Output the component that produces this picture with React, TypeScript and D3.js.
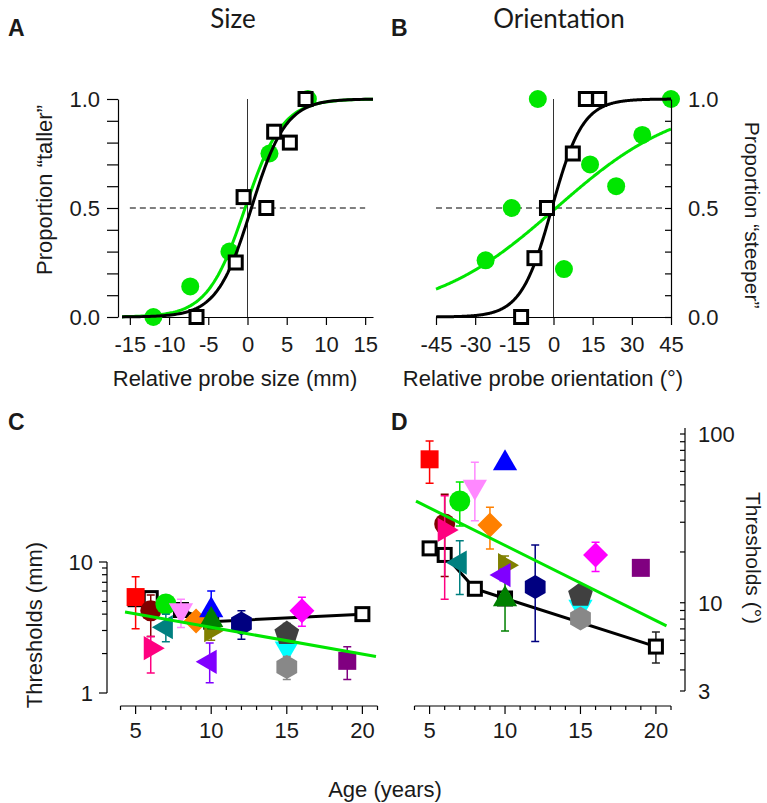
import React, { useEffect, useRef } from 'react';
import * as d3 from 'd3';

// ---- Panel A: size discrimination (relative probe size, proportion "taller")
const sizeGreenX = [-12, -7.3, -2.3, 2.8, 7.7];
const sizeGreenP = [0, 0.14, 0.3, 0.75, 1.0];
const sizeBlackX = [-6.5, -1.5, -0.5, 2.4, 3.4, 5.4, 7.4];
const sizeBlackP = [0, 0.25, 0.55, 0.5, 0.85, 0.8, 1.0];
// logistic fits: [midpoint, spread]
const sizeGreenFit = [-0.3, 2.4];
const sizeBlackFit = [0.5, 2.2];
const sizeTicks = [-15, -10, -5, 0, 5, 10, 15];

// ---- Panel B: orientation discrimination
const oriGreenX = [-26, -16, -6, 4, 14, 24, 34, 45];
const oriGreenP = [0.26, 0.5, 1.0, 0.22, 0.7, 0.6, 0.835, 1.0];
const oriBlackX = [-12.4, -7.3, -2.5, 7.4, 12.4, 17.5];
const oriBlackP = [0, 0.27, 0.5, 0.75, 1, 1];
const oriGreenFit = [1, 24];
const oriBlackFit = [-0.6, 5.9];
const oriTicks = [-45, -30, -15, 0, 15, 30, 45];

const propTicks = [0, 0.5, 1];

// ---- Panels C/D: thresholds by age, one entry per participant
const groupAges = [5, 6, 6, 7, 7, 8, 9, 10, 10, 10, 9.9, 12, 15, 15, 15, 16, 19];
const groupShapes = ['square', 'circle', 'triRight', 'circle', 'triLeft', 'triDown', 'diamond', 'triUp', 'triRight', 'triUp', 'triLeft', 'hexagon', 'triDown', 'pentagon', 'hexagon', 'diamond', 'square'];
const groupColors = ['#ff0000', '#800000', '#ff0080', '#00e600', '#008080', '#ff88ff', '#ff8000', '#0000ff', '#808000', '#008000', '#8000ff', '#000080', '#00ffff', '#404040', '#888888', '#ff00ff', '#800080'];

const sizeThr = [5.4, 4.24, 2.2, 4.78, 3.18, 4.29, 3.55, 4.29, 3.02, 3.6, 1.73, 3.4, 2.19, 2.85, 1.58, 4.24, 1.76];
const sizeLo = [3.1, 2.7, 1.42, 4.5, 2.46, 3.16, 3.2, 3.4, 2.53, 3.1, 1.2, 2.57, 2.0, 2.5, 1.27, 3.23, 1.27];
const sizeHi = [7.7, 5.6, 2.7, 5.1, 4.0, 5.2, 3.9, 6.0, 3.5, 4.1, 2.41, 4.24, 2.4, 3.4, 1.9, 5.37, 2.25];

const oriThr = [70.8, 29.3, 27, 40.1, 17.3, 48.7, 28.9, 67, 16.7, 10.5, 14.6, 12.4, 9.47, 11.1, 8.08, 19.2, 16.1];
const oriLo = [51, 14.3, 10.5, 28.5, 11.2, 30.6, 20.8, 66, 14.5, 6.8, 13.5, 5.9, 7.2, 10.5, 7.6, 15.3, 15.8];
const oriHi = [91, 44, 43, 52, 23.3, 68, 36.8, 68, 18.9, 13.8, 15.8, 22, 10.4, 11.7, 8.6, 22.8, 16.4];

// open black squares (joined by a line)
const blackAges = [5, 6, 8, 10, 20];
const blackSize = [5.2, 5.3, 4.3, 3.5, 4.0];
const blackSizeLo = [5.2, 5.0, 4.3, 3.5, 3.85];
const blackSizeHi = [5.2, 5.6, 4.3, 3.5, 4.15];
const blackOri = [21, 19.2, 12.1, 10.6, 5.5];
const blackOriLo = [21, 19.2, 12.1, 10.6, 4.4];
const blackOriHi = [21, 19.2, 12.1, 10.6, 6.7];

// green regression lines: end ages and values
const trendAges = [4.3, 20.9];
const sizeTrend = [4.15, 1.9];
const oriTrendAges = [4.1, 20.7];
const oriTrend = [40, 7.3];

const ageTicks = [5, 10, 15, 20];
const sizeThrTicks = [1, 10];
const oriThrTicks = [3, 10, 100];

const FONT = 'Liberation Sans, Arial, Helvetica, sans-serif';
const GREEN = '#00e600';
const INK = '#1a1a1a';

const polygon = (n: number, r: number, rot: number) => {
  const pts = d3.range(n).map((i) => {
    const a = rot + (i * 2 * Math.PI) / n;
    return [r * Math.sin(a), -r * Math.cos(a)];
  });
  return 'M' + pts.map((p) => p.join(',')).join('L') + 'Z';
};

const shapePath: Record<string, string> = {
  square: 'M-9,-9H9V9H-9Z',
  circle: d3.symbol(d3.symbolCircle, Math.PI * 10.5 * 10.5)() as string,
  triUp: polygon(3, 14, 0),
  triDown: polygon(3, 14, Math.PI),
  triRight: polygon(3, 14, Math.PI / 2),
  triLeft: polygon(3, 14, -Math.PI / 2),
  diamond: polygon(4, 12.5, 0),
  hexagon: polygon(6, 12, 0),
  pentagon: polygon(5, 13, 0),
};

const logistic = (fit: number[]) => (x: number) => 1 / (1 + Math.exp(-(x - fit[0]) / fit[1]));

const App = () => {
  const ref = useRef<SVGSVGElement>(null);

  useEffect(() => {
    const svg = d3.select(ref.current);
    svg.selectAll('*').remove();
    svg.attr('font-family', FONT);

    const text = (x: number, y: number, s: string, size = 22, anchor = 'middle', rot = 0, weight = 'normal', family = FONT) =>
      svg
        .append('text')
        .attr('transform', `translate(${x},${y}) rotate(${rot})`)
        .attr('text-anchor', anchor)
        .attr('font-size', size)
        .attr('font-weight', weight)
        .attr('font-family', family)
        .attr('fill', INK)
        .text(s);

    // ---------- Panels A and B ----------
    const yP = d3.scaleLinear().domain([0, 1]).range([317, 99]);
    const xA = d3.scaleLinear().domain([-16, 16]).range([122, 373]);
    const xB = d3.scaleLinear().domain([-45, 45]).range([436, 671]);

    const psych = (
      x: d3.ScaleLinear<number, number>,
      ticks: number[],
      gX: number[], gP: number[], bX: number[], bP: number[],
      gFit: number[], bFit: number[],
      dashEnd: number,
    ) => {
      const g = svg.append('g');
      const [d0, d1] = x.domain();

      // x axis
      g.append('g')
        .attr('transform', `translate(0,${yP(0)})`)
        .call(d3.axisBottom(x).tickValues(ticks).tickSize(8).tickSizeOuter(0).tickPadding(11).tickFormat((d) => String(d)))
        .call((a) => a.selectAll('text').attr('font-size', 22).attr('font-family', FONT).attr('fill', INK))
        .call((a) => a.selectAll('line,path').attr('stroke', '#000').attr('stroke-width', 1.2));

      // reference lines
      g.append('line')
        .attr('x1', x(0)).attr('x2', x(0))
        .attr('y1', yP(0)).attr('y2', yP(1))
        .attr('stroke', '#333').attr('stroke-width', 1);
      g.append('line')
        .attr('x1', x(ticks[0])).attr('x2', x(dashEnd))
        .attr('y1', yP(0.5)).attr('y2', yP(0.5))
        .attr('stroke', '#000').attr('stroke-width', 1.2).attr('stroke-dasharray', '6,4');

      // data + fits
      g.selectAll('circle.pt')
        .data(gX)
        .join('circle')
        .attr('cx', (d) => x(d))
        .attr('cy', (_, i) => yP(gP[i]))
        .attr('r', 9)
        .attr('fill', GREEN);

      const curve = (fit: number[]) =>
        d3.line<number>().x((d) => x(d)).y((d) => yP(logistic(fit)(d)))(d3.range(d0, d1 + 0.001, 0.25));

      g.append('path').attr('d', curve(gFit)).attr('fill', 'none').attr('stroke', GREEN).attr('stroke-width', 3);
      g.append('path').attr('d', curve(bFit)).attr('fill', 'none').attr('stroke', '#000').attr('stroke-width', 3);

      g.selectAll('rect.pt')
        .data(bX)
        .join('rect')
        .attr('x', (d) => x(d) - 6.5)
        .attr('y', (_, i) => yP(bP[i]) - 6.5)
        .attr('width', 13)
        .attr('height', 13)
        .attr('fill', '#fff')
        .attr('stroke', '#000')
        .attr('stroke-width', 3);
    };

    psych(xA, sizeTicks, sizeGreenX, sizeGreenP, sizeBlackX, sizeBlackP, sizeGreenFit, sizeBlackFit, 15);
    psych(xB, oriTicks, oriGreenX, oriGreenP, oriBlackX, oriBlackP, oriGreenFit, oriBlackFit, 43);

    // y axis A (left)
    svg.append('g')
      .attr('transform', `translate(118,0)`)
      .call(
        d3.axisLeft(yP).tickValues(d3.range(0, 1.001, 0.1)).tickSize(11).tickSizeOuter(0).tickPadding(7)
          .tickFormat((d) => (propTicks.some((t) => Math.abs(t - +d) < 1e-6) ? d3.format('.1f')(+d) : '')),
      )
      .call((a) => a.selectAll('text').attr('font-size', 22).attr('font-family', FONT).attr('fill', INK))
      .call((a) => a.selectAll('line,path').attr('stroke', '#000').attr('stroke-width', 1.2));

    // y axis B (right, ticks inward)
    svg.append('g')
      .attr('transform', `translate(${xB(45)},0)`)
      .call(
        d3.axisRight(yP).tickValues(d3.range(0, 1.001, 0.1)).tickSize(-6).tickSizeOuter(0).tickPadding(17)
          .tickFormat((d) => (propTicks.some((t) => Math.abs(t - +d) < 1e-6) ? d3.format('.1f')(+d) : '')),
      )
      .call((a) => a.selectAll('text').attr('font-size', 22).attr('font-family', FONT).attr('fill', INK))
      .call((a) => a.selectAll('line,path').attr('stroke', '#000').attr('stroke-width', 1.2));

    // ---------- Panels C and D ----------
    const axisY0 = 706;
    const xC = d3.scaleLinear().domain([4, 21]).range([120.5, 377.5]);
    const xD = d3.scaleLinear().domain([4, 21]).range([414.5, 671]);
    const yC = d3.scaleLog().domain([1, 10]).range([693, 562]);
    const yD = d3.scaleLog().domain([3, 100]).range([691, 434]);

    const ageAxis = (x: d3.ScaleLinear<number, number>) => {
      const g = svg.append('g').attr('stroke', '#000').attr('stroke-width', 1.2);
      g.append('line').attr('x1', x(4)).attr('x2', x(21)).attr('y1', axisY0).attr('y2', axisY0);
      g.selectAll('line.tk')
        .data(d3.range(4, 22))
        .join('line')
        .attr('x1', (d) => x(d)).attr('x2', (d) => x(d))
        .attr('y1', axisY0)
        .attr('y2', (d) => axisY0 + (ageTicks.includes(d) ? 8 : 4));
      ageTicks.forEach((t) => text(x(t), axisY0 + 32, String(t)));
    };
    ageAxis(xC);
    ageAxis(xD);

    // C y axis (left, log)
    {
      const g = svg.append('g').attr('stroke', '#000').attr('stroke-width', 1.2);
      g.append('line').attr('x1', 107).attr('x2', 107).attr('y1', yC(1)).attr('y2', yC(10));
      g.selectAll('line.tk')
        .data(d3.range(1, 11))
        .join('line')
        .attr('x1', (d) => 107 - (sizeThrTicks.includes(d) ? 8 : 5)).attr('x2', 107)
        .attr('y1', (d) => yC(d)).attr('y2', (d) => yC(d));
      sizeThrTicks.forEach((t) => text(93, yC(t) + 8, String(t), 22, 'end'));
    }
    // D y axis (right, log, ticks inward)
    {
      const g = svg.append('g').attr('stroke', '#000').attr('stroke-width', 1.2);
      const ticks = [...d3.range(3, 10), ...d3.range(10, 100, 10), 100];
      g.append('line').attr('x1', 685).attr('x2', 685).attr('y1', yD(3)).attr('y2', yD(100) - 6);
      g.selectAll('line.tk')
        .data(ticks)
        .join('line')
        .attr('x1', 680).attr('x2', 685)
        .attr('y1', (d) => yD(d)).attr('y2', (d) => yD(d));
      oriThrTicks.forEach((t) => text(698, yD(t) + 8, String(t), 22, 'start'));
    }

    const groups = (
      x: d3.ScaleLinear<number, number>,
      y: d3.ScaleLogarithmic<number, number>,
      vals: number[], lo: number[], hi: number[],
      bVals: number[], bLo: number[], bHi: number[],
      tAges: number[], tVals: number[],
    ) => {
      const g = svg.append('g');
      // black line, error bars and open squares
      g.append('path')
        .attr('d', d3.line()(blackAges.map((a, i) => [x(a), y(bVals[i])] as [number, number])))
        .attr('fill', 'none').attr('stroke', '#000').attr('stroke-width', 3);
      blackAges.forEach((a, i) => {
        const cx = x(a);
        if (bHi[i] > bLo[i]) {
          g.append('path')
            .attr('d', `M${cx},${y(bLo[i])}V${y(bHi[i])}M${cx - 4},${y(bLo[i])}H${cx + 4}M${cx - 4},${y(bHi[i])}H${cx + 4}`)
            .attr('stroke', '#222').attr('stroke-width', 1.5).attr('fill', 'none');
        }
        g.append('rect')
          .attr('x', cx - 6.5).attr('y', y(bVals[i]) - 6.5)
          .attr('width', 13).attr('height', 13)
          .attr('fill', '#fff').attr('stroke', '#000').attr('stroke-width', 3);
      });

      // coloured participants
      groupAges.forEach((a, i) => {
        const cx = x(a);
        const col = groupColors[i];
        g.append('path')
          .attr('d', `M${cx},${y(lo[i])}V${y(hi[i])}M${cx - 4},${y(lo[i])}H${cx + 4}M${cx - 4},${y(hi[i])}H${cx + 4}`)
          .attr('stroke', col).attr('stroke-width', 1.5).attr('fill', 'none');
        g.append('path')
          .attr('d', shapePath[groupShapes[i]])
          .attr('transform', `translate(${cx},${y(vals[i])})`)
          .attr('fill', col);
      });

      // regression line
      g.append('path')
        .attr('d', d3.line()(tAges.map((a, i) => [x(a), y(tVals[i])] as [number, number])))
        .attr('fill', 'none').attr('stroke', GREEN).attr('stroke-width', 3);
    };

    groups(xC, yC, sizeThr, sizeLo, sizeHi, blackSize, blackSizeLo, blackSizeHi, trendAges, sizeTrend);
    groups(xD, yD, oriThr, oriLo, oriHi, blackOri, blackOriLo, blackOriHi, oriTrendAges, oriTrend);

    // ---------- labels ----------
    text(8, 36, 'A', 23, 'start', 0, 'bold');
    text(391, 36, 'B', 23, 'start', 0, 'bold');
    text(8, 430, 'C', 23, 'start', 0, 'bold');
    text(391, 430, 'D', 23, 'start', 0, 'bold');

    text(233, 28, 'Size', 26, 'middle', 0, 'normal', 'Lato, "Open Sans", sans-serif');
    text(559, 28, 'Orientation', 26, 'middle', 0, 'normal', 'Lato, "Open Sans", sans-serif');

    text(235, 386, 'Relative probe size (mm)');
    text(543, 386, 'Relative probe orientation (°)');
    text(52, 190, 'Proportion “taller”', 22, 'middle', -90);
    text(745, 215, 'Proportion “steeper”', 21, 'middle', 90);

    text(42, 625, 'Thresholds (mm)', 22, 'middle', -90);
    text(746, 558, 'Thresholds (°)', 21, 'middle', 90);
    text(385, 797, 'Age (years)');
  }, []);

  return (
    <svg
      ref={ref}
      width={767}
      height={803}
      style={{ position: 'absolute', left: 0, top: 0, background: '#fff' }}
    />
  );
};

export default App;
